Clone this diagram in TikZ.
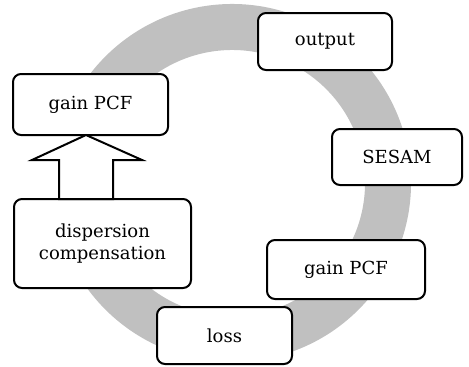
\documentclass[tikz,border=0pt]{standalone}
\usepackage{fontspec}
\setmainfont{DejaVu Serif}
\usetikzlibrary{calc}
\definecolor{ringgray}{RGB}{192,192,192}
\begin{document}
\begin{tikzpicture}[x=1pt,y=-1pt,
  box/.style={draw=black, line width=2pt, rounded corners=8pt, fill=white,
    inner sep=0pt, align=center, font=\fontsize{18}{22}\selectfont},
  blockarrow/.style={draw=black, line width=2pt, fill=white, line join=miter}]
\useasboundingbox (0,0) rectangle (469,367);
\coordinate (c) at (232,183);
\draw[ringgray, line width=46pt] ($(c)+(-190:156)$) arc[start angle=-190, end angle=-517, radius=156];

\node[box, minimum width=155pt, minimum height=61pt] (gp1) at (90.5,104.5) {gain PCF};
\node[box, minimum width=177pt, minimum height=89pt] (dc) at (102.5,243.5) {dispersion\\compensation};
\node[box, minimum width=135pt, minimum height=57pt] (loss) at (224.5,335.5) {loss};
\node[box, minimum width=158pt, minimum height=59pt] (gp2) at (346,269.5) {gain PCF};
\node[box, minimum width=130pt, minimum height=56pt] (sesam) at (397,157) {SESAM};
\node[box, minimum width=134pt, minimum height=57pt] (out) at (325,41.5) {output};

\coordinate (tip) at (86,135);
\draw[blockarrow] (tip) -- (142,160) -- (113,160) -- (113,199) -- (59,199) -- (59,160) -- (32,160) -- cycle;
\end{tikzpicture}
\end{document}
